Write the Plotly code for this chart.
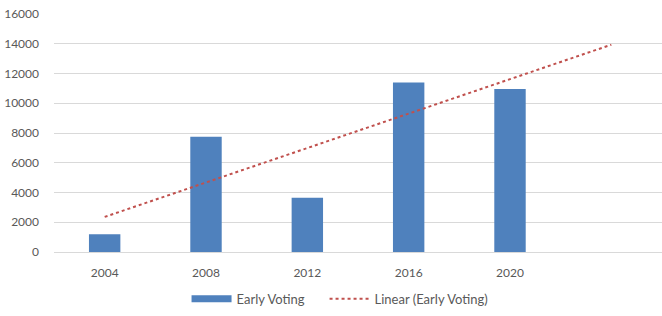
import numpy as np
import plotly.graph_objects as go

categories = ["2004", "2008", "2012", "2016", "2020", ""]
years = ["2004", "2008", "2012", "2016", "2020"]
early_voting = [1200, 7750, 3650, 11400, 10950]
y_ticks = [0, 2000, 4000, 6000, 8000, 10000, 12000, 14000, 16000]

# Linear trendline (least squares), forecast forward one period
xi = np.arange(1, len(early_voting) + 1)
slope, intercept = np.polyfit(xi, early_voting, 1)
trend_x_idx = np.array([1, len(early_voting) + 1])
trend_y = slope * trend_x_idx + intercept

font_family = "Lato, Open Sans, Liberation Sans, sans-serif"
grey = "#595959"
bar_color = "#4F81BD"
trend_color = "#C0504D"

fig = go.Figure()
fig.add_trace(go.Bar(
    x=years, y=early_voting, name="Early Voting", showlegend=False,
    marker=dict(color=bar_color, line=dict(width=0)),
))
# legend entry for the bars (wide rectangle swatch)
fig.add_trace(go.Scatter(
    x=[None], y=[None], name="Early Voting", mode="lines",
    line=dict(color=bar_color, width=7), xaxis="x2", legend="legend",
))
fig.add_trace(go.Scatter(
    x=list(trend_x_idx - 1), y=trend_y, name="Linear (Early Voting)",
    mode="lines", line=dict(color=trend_color, dash="dot", width=2),
    xaxis="x2", legend="legend2",
))

legend_common = dict(
    orientation="h", y=-0.197, yanchor="middle", xanchor="left",
    font=dict(size=13, color=grey), itemwidth=40, bgcolor="rgba(0,0,0,0)",
)

fig.update_layout(
    width=662, height=316,
    margin=dict(l=54, r=0, t=14, b=64, autoexpand=False),
    paper_bgcolor="white", plot_bgcolor="white",
    bargap=0.69,
    font=dict(family=font_family, size=12, color=grey),
    xaxis=dict(
        type="category", categoryorder="array", categoryarray=categories,
        range=[-0.5, len(categories) - 0.5], automargin=False,
        showgrid=False, showline=True, linecolor="#D9D9D9", linewidth=1,
        ticks="", tickfont=dict(size=12, color=grey), ticklabelstandoff=10,
    ),
    xaxis2=dict(
        overlaying="x", range=[-0.5, len(categories) - 0.5],
        visible=False,
    ),
    yaxis=dict(
        range=[0, 16000], tickvals=y_ticks, ticktext=[str(v) for v in y_ticks],
        showgrid=True, gridcolor="#D9D9D9", gridwidth=1, automargin=False,
        zeroline=False, showline=False, ticks="", ticklen=0,
        tickfont=dict(size=12, color=grey), ticklabelstandoff=14,
    ),
    legend=dict(x=0.218, **legend_common),
    legend2=dict(x=0.445, **legend_common),
)

fig.write_html(
    "out.html",
    config={"displayModeBar": False},
    post_script="document.body.style.margin='0';document.body.style.padding='0';",
)
